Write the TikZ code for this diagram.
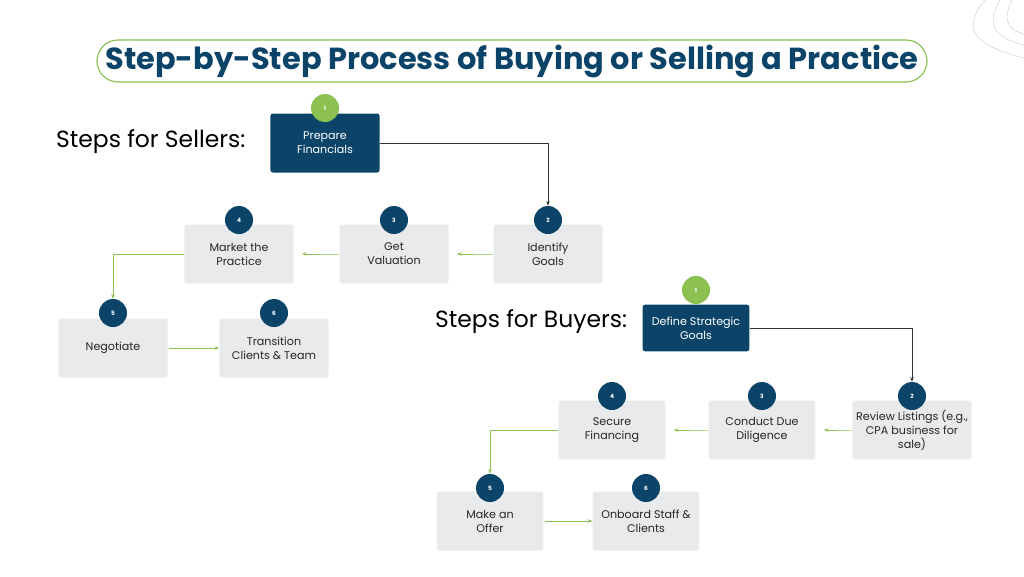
\documentclass[tikz,border=0pt]{standalone}
\usepackage{fontspec}
\setmainfont{Poppins}
\usetikzlibrary{arrows.meta}
\definecolor{navy}{HTML}{0B4468}
\definecolor{leaf}{HTML}{8CC152}
\definecolor{pale}{HTML}{E9EAEC}
\tikzset{
  stepbox/.style={fill=pale,rounded corners=2pt,minimum width=3.27cm,minimum height=1.77cm,align=center,font=\fontsize{9.5}{12}\selectfont,text=black!85},
  topbox/.style={stepbox,fill=navy,text=white},
  badge/.style={circle,fill=navy,minimum size=0.84cm,inner sep=0pt,text=white,font=\fontsize{5}{6}\selectfont\bfseries},
  gbadge/.style={badge,fill=leaf},
  garrow/.style={draw=leaf,-{Stealth[length=4pt]},line width=0.6pt},
  karrow/.style={draw=black!80,-{Stealth[length=4pt]},line width=0.6pt},
  heading/.style={anchor=west,font=\fontsize{20}{23}\selectfont,text=black}
}
\begin{document}
\begin{tikzpicture}[x=0.03cm,y=-0.03cm]
  \useasboundingbox (0,0) rectangle (1024,576);
  % corner decoration
  \draw[leaf!30!gray!35,line width=0.5pt] (985,0) .. controls (960,30) and (975,45) .. (1024,58);
  \draw[leaf!30!gray!35,line width=0.5pt] (1000,0) .. controls (985,25) and (995,38) .. (1024,45);
  \draw[leaf!30!gray!35,line width=0.5pt] (1012,0) .. controls (1002,20) and (1008,30) .. (1024,34);
  % title
  \node[draw=leaf,line width=1pt,rounded corners=0.63cm,minimum width=24.9cm,minimum height=1.26cm,
        text=navy,font=\fontsize{26}{29}\selectfont\bfseries] (title) at (512,61) {Step-by-Step Process of Buying or Selling a Practice};

  % sellers
  \node[heading] (sellers) at (52,142) {Steps for Sellers:};
  \node[topbox] (s1) at (325,143) {Prepare\\Financials};
  \node[stepbox] (s2) at (548,254) {Identify\\Goals};
  \node[stepbox] (s3) at (394,254) {Get\\Valuation};
  \node[stepbox] (s4) at (239,254) {Market the\\Practice};
  \node[stepbox] (s5) at (113,348) {Negotiate};
  \node[stepbox] (s6) at (274,348) {Transition\\Clients \& Team};
  \node[gbadge] (b-s1) at (325,108) {1};
  \node[badge] (b-s2) at (548,220) {2};
  \node[badge] (b-s3) at (394,220) {3};
  \node[badge] (b-s4) at (239,220) {4};
  \node[badge] (b-s5) at (113,313) {5};
  \node[badge] (b-s6) at (274,313) {6};

  % buyers
  \node[heading] (buyers) at (431,322) {Steps for Buyers:};
  \node[topbox,minimum width=3.2cm,minimum height=1.4cm] (t1) at (696,328) {Define Strategic\\Goals};
  \node[stepbox,minimum width=3.24cm] (t2) at (912,430) {Review Listings (e.g.,\\CPA business for\\sale)};
  \node[stepbox,minimum width=3.2cm] (t3) at (762,430) {Conduct Due\\Diligence};
  \node[stepbox,minimum width=3.2cm] (t4) at (612,430) {Secure\\Financing};
  \node[stepbox,minimum width=3.2cm] (t5) at (490,521) {Make an\\Offer};
  \node[stepbox,minimum width=3.2cm] (t6) at (646,521) {Onboard Staff \&\\Clients};
  \node[gbadge] (b-t1) at (696,290) {1};
  \node[badge] (b-t2) at (912,396) {2};
  \node[badge] (b-t3) at (762,396) {3};
  \node[badge] (b-t4) at (612,396) {4};
  \node[badge] (b-t5) at (490,488) {5};
  \node[badge] (b-t6) at (646,488) {6};

  \draw[karrow] (s1.east) -| (b-s2.north);
  \draw[karrow] (t1.east) -| (b-t2.north);
  \foreach \from/\to in {s2/s3,s3/s4,t2/t3,t3/t4}
    \draw[garrow] (\from.west) -- ++(-7,0) coordinate (\from-e) -- ([xshift=7]\to.east);
  \draw[garrow] (s4.west) -| (b-s5.north);
  \draw[garrow] (t4.west) -| (b-t5.north);
  \draw[garrow] ([xshift=1pt]s5.east) -- (s6.west);
  \draw[garrow] ([xshift=1pt]t5.east) -- (t6.west);
\end{tikzpicture}
\end{document}
